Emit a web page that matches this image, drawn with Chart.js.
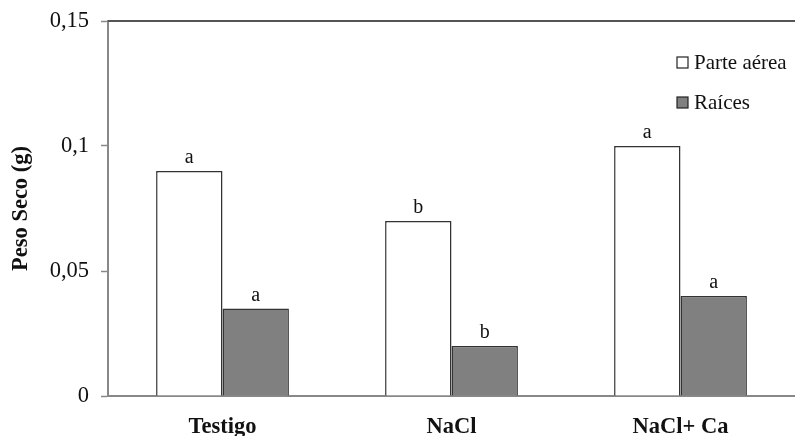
<!DOCTYPE html>
<html>
<head>
<meta charset="utf-8">
<script src="https://cdn.jsdelivr.net/npm/chart.js@4/dist/chart.umd.min.js"></script>
<style>
  html, body { margin: 0; padding: 0; background: #fff; }
  #wrap { width: 795px; height: 436px; }
</style>
</head>
<body>
<div id="wrap"><canvas id="chartCanvas" width="795" height="436"></canvas></div>
<script>
// data
const categories = ['Testigo', 'NaCl', 'NaCl+ Ca']
const parteAerea = [0.09, 0.07, 0.1]
const raices = [0.035, 0.02, 0.04]
const letrasAerea = ['a', 'b', 'a']
const letrasRaices = ['a', 'b', 'a']
const yTicks = [0, 0.05, 0.1, 0.15]

const serif = '"Liberation Serif", "Times New Roman", serif'

// letras de significancia encima de cada barra
const letterPlugin = {
  id: 'letters',
  afterDatasetsDraw(chart) {
    const ctx = chart.ctx
    const sets = [letrasAerea, letrasRaices]
    ctx.save()
    ctx.font = '20px ' + serif
    ctx.fillStyle = '#111'
    ctx.textAlign = 'center'
    ctx.textBaseline = 'alphabetic'
    sets.forEach((letters, i) => {
      chart.getDatasetMeta(i).data.forEach((bar, j) => {
        ctx.fillText(letters[j], bar.x, bar.y - 8)
      })
    })
    ctx.restore()
  }
}

// linea superior y leyenda propia
const frameLegend = {
  id: 'frameLegend',
  afterDraw(chart) {
    const ctx = chart.ctx
    const a = chart.chartArea
    ctx.save()
    ctx.strokeStyle = '#555'
    ctx.lineWidth = 2
    ctx.beginPath()
    ctx.moveTo(a.left, a.top)
    ctx.lineTo(a.right, a.top)
    ctx.stroke()

    ctx.font = '21px ' + serif
    ctx.textBaseline = 'alphabetic'
    ctx.textAlign = 'left'
    chart.data.datasets.forEach((ds, i) => {
      const y = 57 + i * 40
      ctx.fillStyle = ds.backgroundColor
      ctx.strokeStyle = '#222'
      ctx.lineWidth = 1.2
      ctx.fillRect(677, y, 11, 11)
      ctx.strokeRect(677, y, 11, 11)
      ctx.fillStyle = '#111'
      ctx.fillText(ds.label, 694, y + 11.5)
    })
    ctx.restore()
  }
}

new Chart(document.getElementById('chartCanvas'), {
  type: 'bar',
  data: {
    labels: categories,
    datasets: [
      { label: 'Parte aérea', data: parteAerea, backgroundColor: '#ffffff', borderColor: '#333', borderWidth: 1.5 },
      { label: 'Raíces', data: raices, backgroundColor: '#808080', borderColor: '#333', borderWidth: 1.5 }
    ]
  },
  options: {
    responsive: false,
    animation: false,
    devicePixelRatio: 1,
    layout: { padding: { top: 21, right: 0, left: 0, bottom: 0 } },
    categoryPercentage: 0.58,
    barPercentage: 1,
    plugins: {
      legend: { display: false },
      tooltip: { enabled: false }
    },
    scales: {
      x: {
        grid: { display: false, drawTicks: false },
        border: { display: true, color: '#888', width: 2 },
        ticks: { color: '#111', padding: 18, font: { family: serif, size: 22.5, weight: 'bold' } },
        afterFit(scale) { scale.height = 40 }
      },
      y: {
        min: 0,
        max: 0.15,
        afterBuildTicks(scale) { scale.ticks = yTicks.map(v => ({ value: v })) },
        grid: { drawOnChartArea: false, drawTicks: true, tickLength: 7, tickColor: '#888', tickWidth: 1.5 },
        border: { display: true, color: '#888', width: 2 },
        ticks: {
          color: '#111',
          padding: 12,
          font: { family: serif, size: 22.5 },
          callback: v => String(v).replace('.', ',')
        },
        title: {
          display: true,
          text: 'Peso Seco (g)',
          color: '#111',
          font: { family: serif, size: 22.5, weight: 'bold' },
          padding: { top: 8, bottom: 0 }
        },
        afterFit(scale) {
          scale.width = 108
          scale.paddingTop = 0
          scale.paddingBottom = 0
        }
      }
    }
  },
  plugins: [letterPlugin, frameLegend]
})
</script>
</body>
</html>
